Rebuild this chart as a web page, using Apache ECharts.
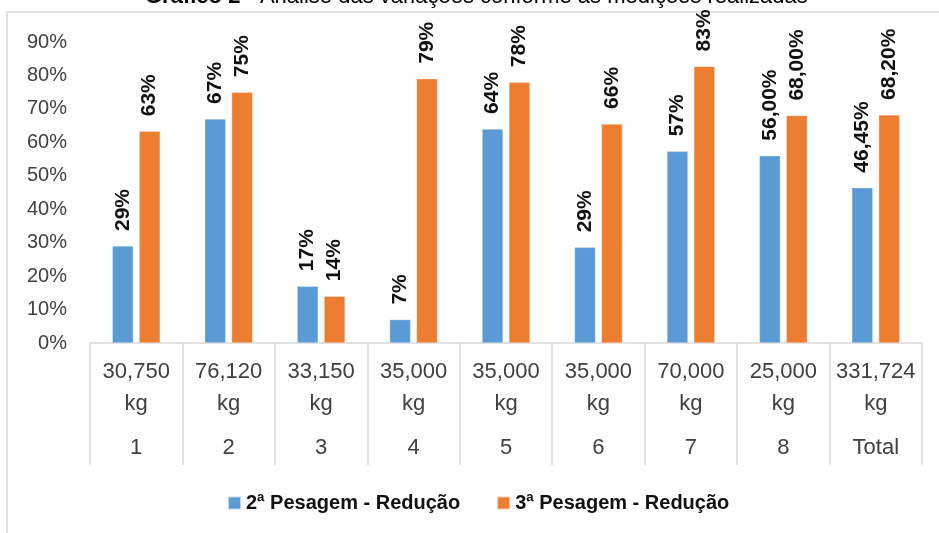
<!DOCTYPE html>
<html>
<head>
<meta charset="utf-8">
<script src="https://cdn.jsdelivr.net/npm/echarts@6/dist/echarts.min.js"></script>
<style>
html,body{margin:0;padding:0;background:#fff;}
#chart{width:939px;height:533px;}
</style>
</head>
<body>
<div id="chart"></div>
<script>
var weights = ['30,750', '76,120', '33,150', '35,000', '35,000', '35,000', '70,000', '25,000', '331,724'];
var ids = ['1', '2', '3', '4', '5', '6', '7', '8', 'Total'];
var seriesNames = ['2ª Pesagem - Redução', '3ª Pesagem - Redução'];
var pesagem2 = [29, 67, 17, 7, 64, 28.6, 57.3, 56, 46.45];
var pesagem3 = [63.3, 75, 14, 79, 78, 65.5, 82.7, 68, 68.2];
var labels2 = ['29%', '67%', '17%', '7%', '64%', '29%', '57%', '56,00%', '46,45%'];
var labels3 = ['63%', '75%', '14%', '79%', '78%', '66%', '83%', '68,00%', '68,20%'];
var yTicks = [0, 10, 20, 30, 40, 50, 60, 70, 80, 90];

var FONT = 'Liberation Sans, Arial, sans-serif';
var chart = echarts.init(document.getElementById('chart'));

function barSeries(name, values, labels, color) {
  return {
    name: name,
    type: 'bar',
    data: values,
    barWidth: 21,
    barGap: '28%',
    itemStyle: { color: color, borderColor: 'rgba(255,255,255,0.6)', borderWidth: 0.5 },
    label: {
      show: true,
      position: 'top',
      rotate: 90,
      align: 'left',
      verticalAlign: 'middle',
      distance: 15,
      fontFamily: FONT,
      fontSize: 21,
      fontWeight: 'bold',
      color: '#111',
      formatter: function (p) { return labels[p.dataIndex]; }
    }
  };
}

chart.setOption({
  animation: false,
  backgroundColor: '#fff',
  graphic: [
    {
      type: 'rect',
      shape: { x: 7, y: 12, width: 1000, height: 700 },
      style: { fill: 'none', stroke: '#d9d9d9', lineWidth: 1.5 },
      silent: true
    },
    {
      type: 'text',
      left: 145,
      top: -14,
      style: {
        text: '{b|Gráfico 2} - Análise das variações conforme as medições realizadas',
        fontFamily: FONT,
        fontSize: 22,
        fill: '#000',
        rich: { b: { fontWeight: 'bold', fontFamily: FONT, fontSize: 22, fill: '#000' } }
      }
    }
  ],
  legend: {
    data: seriesNames,
    left: 222,
    top: 488,
    icon: 'rect',
    itemWidth: 13,
    itemHeight: 13,
    itemGap: 36,
    textStyle: { fontFamily: FONT, fontSize: 20, fontWeight: 'bold', color: '#111' }
  },
  grid: { left: 90, right: 17, top: 42, bottom: 190, containLabel: false },
  xAxis: {
    type: 'category',
    data: ids,
    boundaryGap: true,
    axisLine: { show: true, lineStyle: { color: '#d9d9d9', width: 1.5 } },
    axisTick: { show: true, length: 122, lineStyle: { color: '#d9d9d9', width: 1.5 } },
    axisLabel: {
      interval: 0,
      margin: 13,
      fontFamily: FONT,
      color: '#404040',
      formatter: function (v, i) {
        return '{a|' + weights[i] + '}\n{a|kg}\n{b|' + v + '}';
      },
      rich: {
        a: { fontFamily: FONT, fontSize: 22, lineHeight: 32, color: '#404040' },
        b: { fontFamily: FONT, fontSize: 22, lineHeight: 56, color: '#404040' }
      }
    }
  },
  yAxis: {
    type: 'value',
    min: yTicks[0],
    max: yTicks[yTicks.length - 1],
    interval: 10,
    axisLine: { show: false },
    axisTick: { show: false },
    splitLine: { show: false },
    axisLabel: {
      margin: 23,
      fontFamily: FONT,
      fontSize: 20,
      color: '#404040',
      formatter: '{value}%'
    }
  },
  series: [
    barSeries(seriesNames[0], pesagem2, labels2, '#5B9BD5'),
    barSeries(seriesNames[1], pesagem3, labels3, '#ED7D31')
  ]
});
</script>
</body>
</html>
